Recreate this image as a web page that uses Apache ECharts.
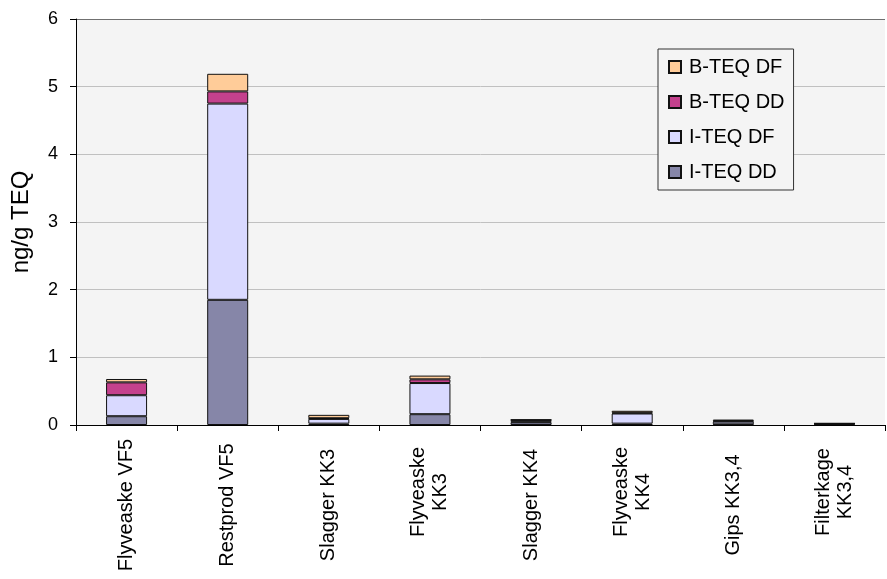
<!DOCTYPE html>
<html>
<head>
<meta charset="utf-8">
<script src="https://cdn.jsdelivr.net/npm/echarts@6/dist/echarts.min.js"></script>
<style>
  html, body { margin: 0; padding: 0; background: #ffffff; }
  #chart { width: 887px; height: 579px; }
</style>
</head>
<body>
<div id="chart"></div>
<script>
// Sample categories (residue streams)
const categories = [
  'Flyveaske VF5', 'Restprod VF5', 'Slagger KK3', 'Flyveaske\nKK3',
  'Slagger KK4', 'Flyveaske\nKK4', 'Gips KK3,4', 'Filterkage\nKK3,4'
];

// Stacked TEQ contributions, ng/g
const iTeqDD = [0.13, 1.85, 0.02, 0.16, 0.04, 0.02, 0.01, 0.01];
const iTeqDF = [0.31, 2.90, 0.07, 0.46, 0.01, 0.15, 0.04, 0.01];
const bTeqDD = [0.19, 0.18, 0.01, 0.055, 0.025, 0.01, 0.01, 0.003];
const bTeqDF = [0.05, 0.26, 0.05, 0.055, 0.005, 0.03, 0.02, 0.002];

const yTicks = [0, 1, 2, 3, 4, 5, 6];

const font = '"Liberation Sans", Arial, sans-serif';

// Two-line labels sit a little closer to the axis
const axisData = categories.map(c => c.indexOf('\n') >= 0
  ? { value: c, textStyle: { align: 'center', verticalAlign: 'middle', padding: [0, 0, 0, 26] } }
  : c);

function barSeries(name, data, color) {
  return {
    name: name,
    type: 'bar',
    stack: 'teq',
    data: data,
    barWidth: 41,
    itemStyle: { color: color, borderColor: '#111', borderWidth: 1 }
  };
}

const chart = echarts.init(document.getElementById('chart'), null, { renderer: 'canvas' });
chart.setOption({
  animation: false,
  backgroundColor: '#ffffff',
  textStyle: { fontFamily: font, color: '#000' },
  grid: {
    left: 76, right: 2, top: 19, bottom: 154,
    outerBoundsMode: 'none',
    containLabel: false,
    show: true, backgroundColor: '#f4f4f4', borderWidth: 0
  },
  legend: {
    orient: 'vertical',
    left: 658, top: 49,
    padding: [8, 9, 8, 10],
    itemWidth: 12, itemHeight: 12, itemGap: 15,
    borderColor: '#333', borderWidth: 1,
    backgroundColor: '#f4f4f4',
    icon: 'rect',
    textStyle: { fontSize: 20, fontFamily: font, color: '#000', padding: [0, 0, 0, 3] },
    data: ['B-TEQ DF', 'B-TEQ DD', 'I-TEQ DF', 'I-TEQ DD']
  },
  xAxis: {
    type: 'category',
    data: axisData,
    axisLine: { show: true, lineStyle: { color: '#000', width: 1 } },
    axisTick: { show: true, interval: 0, length: 6, lineStyle: { color: '#000' } },
    axisLabel: {
      interval: 0, rotate: 90, align: 'center', verticalAlign: 'middle',
      margin: 80, fontSize: 20, fontFamily: font, color: '#000', lineHeight: 22
    },
    splitLine: { show: false }
  },
  yAxis: {
    type: 'value',
    min: yTicks[0], max: yTicks[yTicks.length - 1], interval: 1,
    name: 'ng/g TEQ',
    nameLocation: 'middle',
    nameGap: 43,
    nameRotate: 90,
    nameTextStyle: { fontSize: 24, fontFamily: font, color: '#000' },
    axisLine: { show: true, lineStyle: { color: '#000', width: 1 } },
    axisTick: { show: true, length: 6, lineStyle: { color: '#000' } },
    axisLabel: { margin: 18, fontSize: 18, fontFamily: font, color: '#000' },
    splitLine: {
      show: true,
      lineStyle: { color: ['#c0c0c0', '#c0c0c0', '#c0c0c0', '#c0c0c0', '#c0c0c0', '#c0c0c0', '#707070'], width: 1 }
    }
  },
  series: [
    barSeries('I-TEQ DD', iTeqDD, '#8686a8'),
    barSeries('I-TEQ DF', iTeqDF, '#d9d9ff'),
    barSeries('B-TEQ DD', bTeqDD, '#c4418d'),
    barSeries('B-TEQ DF', bTeqDF, '#ffcc99')
  ]
});
</script>
</body>
</html>
